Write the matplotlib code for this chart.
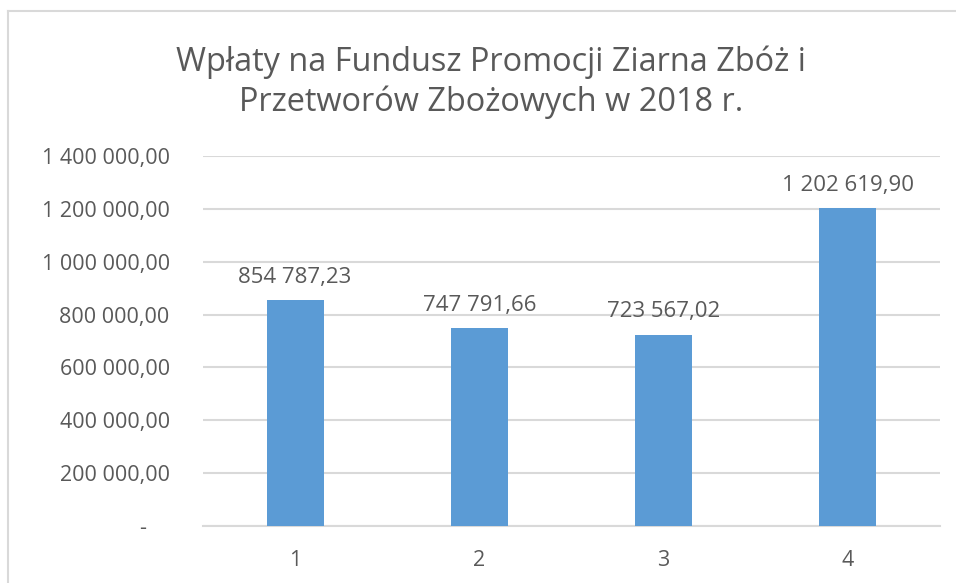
import matplotlib
matplotlib.use("Agg")
import matplotlib.pyplot as plt
from matplotlib.lines import Line2D
from matplotlib.transforms import ScaledTranslation

categories = ["1", "2", "3", "4"]
values = [854787.23, 747791.66, 723567.02, 1202619.90]
value_labels = ["854 787,23", "747 791,66", "723 567,02", "1 202 619,90"]
yticks = [0, 200000, 400000, 600000, 800000, 1000000, 1200000, 1400000]
ytick_labels = ["-", "200 000,00", "400 000,00", "600 000,00", "800 000,00",
                "1 000 000,00", "1 200 000,00", "1 400 000,00"]
title = "Wpłaty na Fundusz Promocji Ziarna Zbóż i\nPrzetworów Zbożowych w 2018 r."

plt.rcParams['font.family'] = ['Open Sans', 'DejaVu Sans']
W, H = 956, 583
fig = plt.figure(figsize=(W / 100, H / 100), dpi=100)
ax = fig.add_axes([203 / W, 1 - 526 / H, (940 - 203) / W, (526 - 156) / H])

txt = "#595959"
x = list(range(len(categories)))
ax.bar(x, values, width=0.31, color="#5B9BD5", zorder=3)
ax.set_xlim(-0.5, len(categories) - 0.5)
ax.set_ylim(0, 1400000)
ax.set_yticks(yticks)
ax.set_yticklabels(ytick_labels)
ax.set_xticks(x)
ax.set_xticklabels(categories)
ax.tick_params(axis="both", length=0, labelsize=15.5, colors=txt)
ax.tick_params(axis="y", pad=24)
ax.tick_params(axis="x", pad=17)
for lab in ax.get_yticklabels():
    lab.set_horizontalalignment("right")
# accounting-style dash for zero sits left of the decimal part
zero_lab = ax.get_yticklabels()[0]
zero_lab.set_transform(zero_lab.get_transform() + ScaledTranslation(-0.24, 0, fig.dpi_scale_trans))
ax.yaxis.grid(True, color="#D9D9D9", linewidth=1.5, zorder=0)
for s in ["top", "right", "left"]:
    ax.spines[s].set_visible(False)
ax.spines["bottom"].set_color("#D9D9D9")
ax.spines["bottom"].set_linewidth(1.5)

for xi, v, lab in zip(x, values, value_labels):
    ax.annotate(lab, (xi, v), xytext=(0, 9), textcoords="offset points",
                ha="center", va="bottom", fontsize=16, color=txt)

fig.text(491 / W, 1 - 82 / H, title, ha="center", va="center", fontsize=23.4,
         color=txt, linespacing=1.25)

fig.add_artist(Line2D([8 / W, 8 / W], [0, 1 - 11 / H], transform=fig.transFigure,
                      color="#D9D9D9", linewidth=1.5))
fig.add_artist(Line2D([8 / W, 1], [1 - 11 / H, 1 - 11 / H], transform=fig.transFigure,
                      color="#D9D9D9", linewidth=1.5))

fig.savefig("out.png", dpi=100)
